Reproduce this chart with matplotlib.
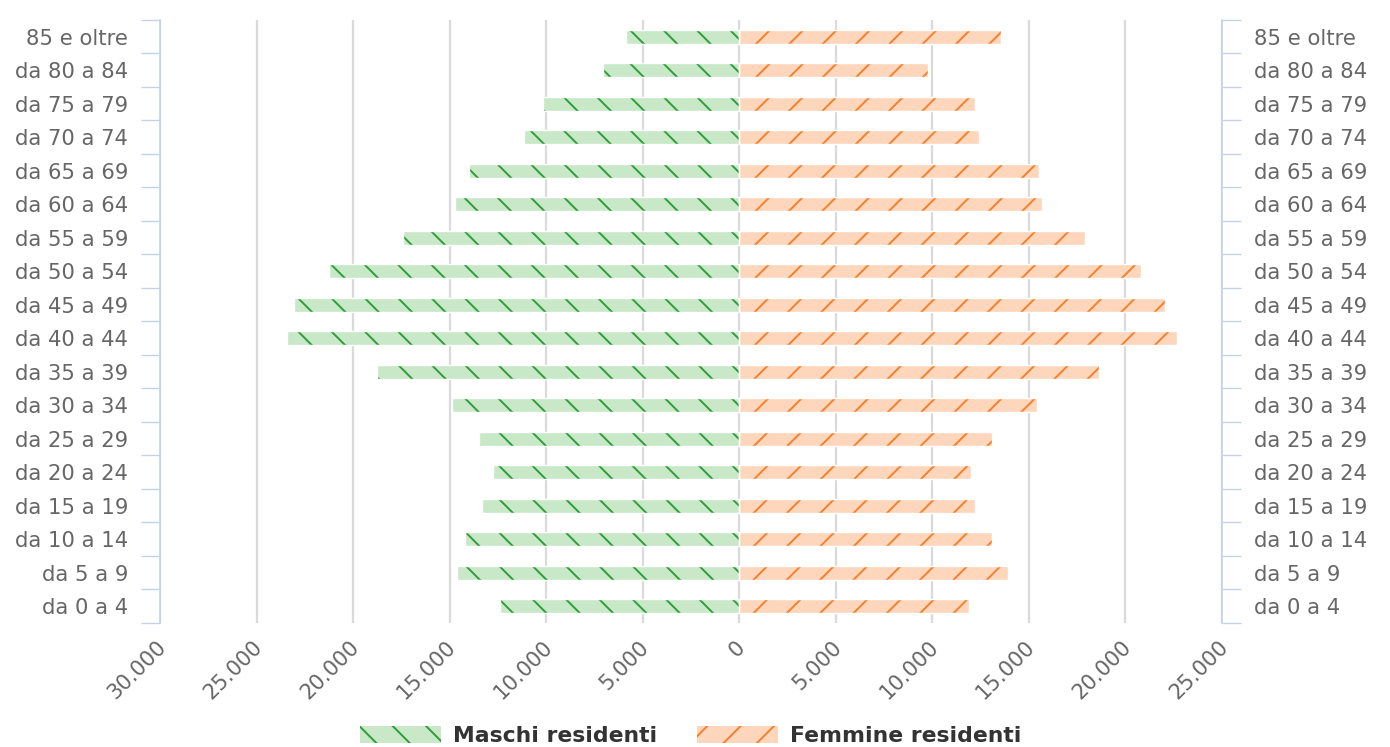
import numpy as np
import matplotlib.pyplot as plt
from matplotlib.ticker import FuncFormatter, FixedLocator
from matplotlib.transforms import ScaledTranslation

plt.rcParams['font.family'] = ['DejaVu Sans']
plt.rcParams['hatch.linewidth'] = 0.7

# age classes, bottom to top
classi = ["da 0 a 4", "da 5 a 9", "da 10 a 14", "da 15 a 19", "da 20 a 24",
          "da 25 a 29", "da 30 a 34", "da 35 a 39", "da 40 a 44", "da 45 a 49",
          "da 50 a 54", "da 55 a 59", "da 60 a 64", "da 65 a 69", "da 70 a 74",
          "da 75 a 79", "da 80 a 84", "85 e oltre"]

maschi = [12400, 14600, 14200, 13300, 12750, 13500, 14900, 18750, 23400, 23050,
          21250, 17400, 14700, 14000, 11150, 10150, 7050, 5850]
femmine = [11900, 13900, 13100, 12200, 12000, 13100, 15400, 18650, 22650, 22050,
           20800, 17900, 15700, 15500, 12400, 12200, 9800, 13550]

tick_vals = np.arange(-30000, 25001, 5000)

verde_fill = '#c8e8c8'
verde_hatch = '#2e9e3a'
arancio_fill = '#fdd6bb'
arancio_hatch = '#f4802e'
asse = '#c4d2e6'
testo = '#666666'

fig = plt.figure(figsize=(6.95, 3.735), dpi=200)
ax = fig.add_axes([0.1151, 0.166, 0.7640, 0.8074])

y = np.arange(len(classi))
h = 0.42
ax.barh(y, -np.array(maschi), height=h, color=verde_fill, edgecolor=verde_hatch,
        linewidth=0, hatch='\\\\', label='Maschi residenti', zorder=2)
ax.barh(y, femmine, height=h, color=arancio_fill, edgecolor=arancio_hatch,
        linewidth=0, hatch='//', label='Femmine residenti', zorder=2)
# thin white borders round the bars
ax.barh(y, -np.array(maschi), height=h, fill=False, edgecolor='white', linewidth=0.5, zorder=3)
ax.barh(y, femmine, height=h, fill=False, edgecolor='white', linewidth=0.5, zorder=3)

ax.set_xlim(-30000, 25000)
ax.set_ylim(-0.5, len(classi) - 0.5)

ax.xaxis.set_major_locator(FixedLocator(tick_vals))
ax.xaxis.set_major_formatter(FuncFormatter(lambda v, p: f"{abs(int(v)):,}".replace(',', '.')))
ax.tick_params(axis='x', length=0, pad=5, labelsize=7.6, labelcolor=testo)
shift = ScaledTranslation(-1.5 / 72, 0, fig.dpi_scale_trans)
for lab in ax.get_xticklabels():
    lab.set_rotation(45)
    lab.set_ha('right')
    lab.set_rotation_mode('anchor')
    lab.set_transform(lab.get_transform() + shift)

ax.grid(axis='x', color='#dadada', linewidth=0.8, zorder=0)
ax.set_axisbelow(True)

# boundaries as major ticks, class names on minor ticks
ax.yaxis.set_major_locator(FixedLocator(np.arange(-0.5, len(classi), 1.0)))
ax.yaxis.set_minor_locator(FixedLocator(y))
ax.set_yticklabels([], minor=False)
ax.set_yticklabels(classi, minor=True)
ax.tick_params(axis='y', which='major', length=7, width=0.5, color=asse,
               left=True, right=True, direction='out')
ax.tick_params(axis='y', which='minor', length=0, pad=11.5, labelsize=7.6,
               labelcolor=testo, left=True, right=True, labelleft=True, labelright=True)

for s in ['top', 'bottom']:
    ax.spines[s].set_visible(False)
for s in ['left', 'right']:
    ax.spines[s].set_color(asse)
    ax.spines[s].set_linewidth(0.6)

leg = fig.legend(loc='lower center', bbox_to_anchor=(0.497, -0.025), ncol=2, frameon=False,
                 handlelength=3.7, handleheight=0.85, columnspacing=1.8, handletextpad=0.55,
                 prop={'size': 7.9, 'weight': 'bold'})
for t in leg.get_texts():
    t.set_color('#333333')

fig.savefig('out.png', dpi=200)
